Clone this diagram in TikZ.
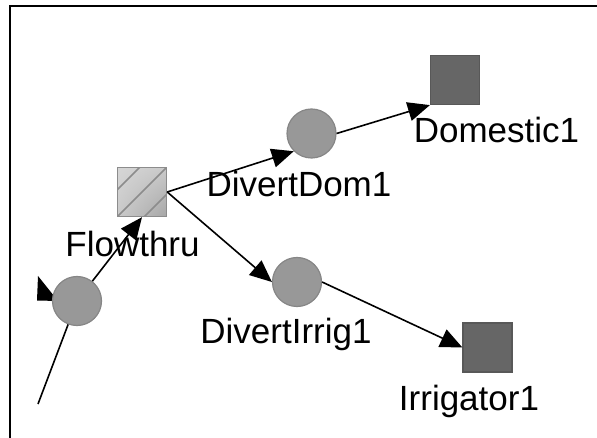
\documentclass[tikz,border=0pt]{standalone}
\usepackage{fontspec}
\setmainfont{Liberation Sans}
\usetikzlibrary{arrows.meta,shadings}
\definecolor{nodegray}{HTML}{989898}
\definecolor{nodeedge}{HTML}{868686}
\definecolor{sinkgray}{HTML}{666666}
\definecolor{sinkedge}{HTML}{585858}
\definecolor{flowlight}{HTML}{D6D6D6}
\definecolor{flowdark}{HTML}{A6A6A6}
\definecolor{flowedge}{HTML}{8C8C8C}
\tikzset{
  junction/.style={circle, fill=nodegray, draw=nodeedge, line width=1.2pt,
    minimum size=49pt, inner sep=0pt},
  sink/.style={rectangle, fill=sinkgray, draw=sinkedge, line width=1.2pt,
    minimum size=49pt, inner sep=0pt},
  passthru/.style={rectangle, draw=flowedge, line width=1.4pt,
    minimum size=49pt, inner sep=0pt,
    upper left=flowlight, upper right=flowlight!75!flowdark,
    lower left=flowlight!75!flowdark, lower right=flowdark,
    path picture={
      \draw[flowedge, line width=1.5pt]
        ([xshift=-2.5pt]path picture bounding box.north) -- ([yshift=2.5pt]path picture bounding box.west)
        (path picture bounding box.south west) -- (path picture bounding box.north east)
        ([xshift=2.5pt]path picture bounding box.south) -- ([yshift=-2.5pt]path picture bounding box.east);
    }},
  lbl/.style={anchor=base, inner sep=0pt, font=\fontsize{35}{42}\selectfont},
  link/.style={draw=black, line width=1.6pt},
  arr/.style={link, -{Triangle[length=22pt,width=19pt]}},
}
\begin{document}
\begin{tikzpicture}[x=1pt,y=-1pt]
  \useasboundingbox (0,0) rectangle (597,438);
  % panel frame
  \draw[line width=2pt] (10,438) -- (10,6.5) -- (597,6.5);

  % partly hidden arrow tip at the inflow junction
  \fill (38,276) -- (37,300.5) -- (58,301) -- cycle;

  % nodes
  \node[junction] (src) at (77,301) {};
  \node[passthru, shade] (flow) at (142,192) {};
  \node[junction] (dd) at (311.5,133.5) {};
  \node[sink] (dom) at (455,80) {};
  \node[junction] (di) at (297,282) {};
  \node[sink] (irr) at (487.5,347.5) {};
  \coordinate (inflow) at (38,404);

  % connectors
  \draw[link] (src) -- (inflow);
  \draw[arr] (src) -- (flow.south);
  \draw[arr] (flow.east) -- (dd.south west);
  \draw[arr] (dd.east) -- (dom.south west);
  \draw[arr] (flow.east) -- (di.west);
  \draw[arr] (di.east) -- (irr.west);

  % labels
  \node[lbl] (lflow) at (132.5,257) {Flowthru};
  \node[lbl] (ldd) at (299,197) {DivertDom1};
  \node[lbl] (ldom) at (496.5,143) {Domestic1};
  \node[lbl] (ldi) at (286,343) {DivertIrrig1};
  \node[lbl] (lirr) at (469,410) {Irrigator1};
\end{tikzpicture}
\end{document}
